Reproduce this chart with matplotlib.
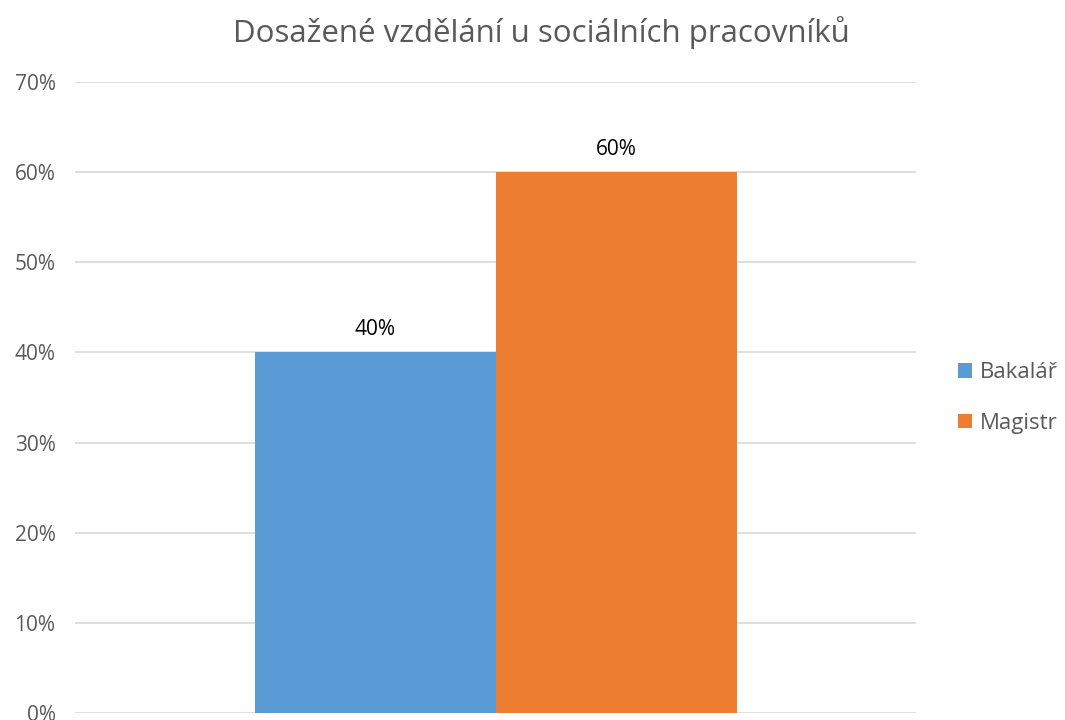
import matplotlib
matplotlib.use('Agg')
import matplotlib.pyplot as plt
import numpy as np

# Data
categories = ['Bakalář', 'Magistr']
values = [0.40, 0.60]
colors = ['#5B9BD5', '#ED7D31']
y_ticks = [0, 0.1, 0.2, 0.3, 0.4, 0.5, 0.6, 0.7]

plt.rcParams['font.family'] = ['Open Sans', 'DejaVu Sans']

fig = plt.figure(figsize=(10.65, 7.2), dpi=100)
ax = fig.add_axes([0.0704, 0.0097, 0.79, 0.8764])

bar_width = 0.2866
offsets = [-bar_width / 2, bar_width / 2]
bars = []
for cat, val, col, off in zip(categories, values, colors, offsets):
    b = ax.bar(off, val, width=bar_width, color=col, label=cat, zorder=3)
    bars.append(b)
    ax.text(off, val + 0.014, f'{val:.0%}', ha='center', va='bottom',
            fontsize=15, color='black')

ax.set_xlim(-0.5, 0.5)
ax.set_ylim(0, 0.7)
ax.set_yticks(y_ticks)
ax.set_yticklabels([f'{t:.0%}' for t in y_ticks], fontsize=15, color='#595959')
ax.set_xticks([])
ax.tick_params(axis='y', length=0, pad=14)
ax.grid(axis='y', color='#D9D9D9', linewidth=1.2, zorder=0)
for s in ax.spines.values():
    s.set_visible(False)

fig.text(0.508, 0.955, 'Dosažené vzdělání u sociálních pracovníků',
         ha='center', va='center', fontsize=22.5, color='#595959')

fig.legend(handles=[b[0] for b in bars], labels=categories,
           loc='center left', bbox_to_anchor=(0.881, 0.447), frameon=False,
           fontsize=16, handlelength=0.63, handleheight=0.63,
           handletextpad=0.35, labelspacing=1.32, labelcolor='#595959')

fig.savefig('out.png', dpi=100)
